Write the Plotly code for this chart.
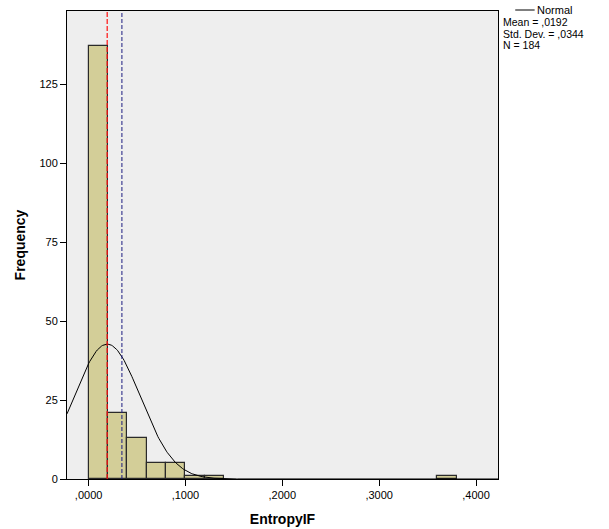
import numpy as np
import plotly.graph_objects as go

# Data
bin_starts = [0.00, 0.02, 0.04, 0.06, 0.08, 0.10, 0.12, 0.36]
counts = [137, 21, 13, 5, 5, 1, 1, 1]
bin_width = 0.02
mean_val = 0.0192
std_val = 0.0344
n_val = 184
median_line = 0.0192
ref_line = 0.0344
x_range = [-0.0223, 0.4227]
y_range = [0, 148.1]
x_tickvals = [0.0, 0.1, 0.2, 0.3, 0.4]
x_ticktext = [",0000", ",1000", ",2000", ",3000", ",4000"]
y_tickvals = [0, 25, 50, 75, 100, 125]
y_ticktext = ["0", "25", "50", "75", "100", "125"]
stat_lines = [
    f"Mean = ,{int(round(mean_val*10000)):04d}",
    f"Std. Dev. = ,{int(round(std_val*10000)):04d}",
    f"N = {n_val}",
]

centers = [b + bin_width / 2 for b in bin_starts]

xs = np.linspace(x_range[0], x_range[1], 400)
ys = n_val * bin_width / (std_val * np.sqrt(2 * np.pi)) * np.exp(-0.5 * ((xs - mean_val) / std_val) ** 2)

fig = go.Figure()
fig.add_trace(go.Bar(
    x=centers, y=counts, width=bin_width,
    marker=dict(color="#D3CE98", line=dict(color="#2A2A2A", width=1.2)),
    showlegend=False, hoverinfo="skip",
))
fig.add_trace(go.Scatter(
    x=xs, y=ys, mode="lines", line=dict(color="black", width=1),
    name="Normal", showlegend=False,
))

fig.add_shape(type="line", xref="x", yref="paper", x0=median_line, x1=median_line, y0=0, y1=1,
              line=dict(color="#FF1010", width=1.2, dash="5px,2px"), layer="above")
fig.add_shape(type="line", xref="x", yref="paper", x0=ref_line, x1=ref_line, y0=0, y1=1,
              line=dict(color="#1C1C80", width=1, dash="4px,2px"), layer="above")

# legend-like annotation
plot_h = 468.0
def py(pix):
    return 1 - (pix - 11) / plot_h

fig.add_shape(type="line", xref="paper", yref="paper", x0=1.04, x1=1.085, y0=py(10), y1=py(10),
              line=dict(color="black", width=1))
fig.add_annotation(xref="paper", yref="paper", x=1.088, y=py(10), xanchor="left", yanchor="middle",
                   text="Normal", showarrow=False, font=dict(size=11, color="black"), borderpad=0)
for i, t in enumerate(stat_lines):
    fig.add_annotation(xref="paper", yref="paper", x=1.009, y=py(22 + 11.5 * i), xanchor="left", yanchor="middle",
                       text=t, showarrow=False, align="left", font=dict(size=10.5, color="black"), borderpad=0)

fig.update_layout(
    width=609, height=529,
    margin=dict(l=67, r=111, t=11, b=50),
    paper_bgcolor="white", plot_bgcolor="#EEEEEE",
    font=dict(family="Liberation Sans, Arial, sans-serif", color="black", size=11),
    bargap=0,
)
fig.update_xaxes(
    range=x_range, tickvals=x_tickvals, ticktext=x_ticktext, automargin=False,
    ticks="outside", ticklen=6, tickcolor="black", showgrid=False, zeroline=False,
    showline=True, linecolor="black", linewidth=1, mirror=True,
    title=dict(text="<b>EntropyIF</b>", font=dict(size=14), standoff=13),
)
fig.update_yaxes(
    range=y_range, tickvals=y_tickvals, ticktext=y_ticktext, automargin=False,
    ticks="outside", ticklen=6, tickcolor="black", showgrid=False, zeroline=False,
    showline=True, linecolor="black", linewidth=1, mirror=True,
    title=dict(text="<b>Frequency</b>", font=dict(size=14), standoff=10),
)

fig.write_html("out.html")
